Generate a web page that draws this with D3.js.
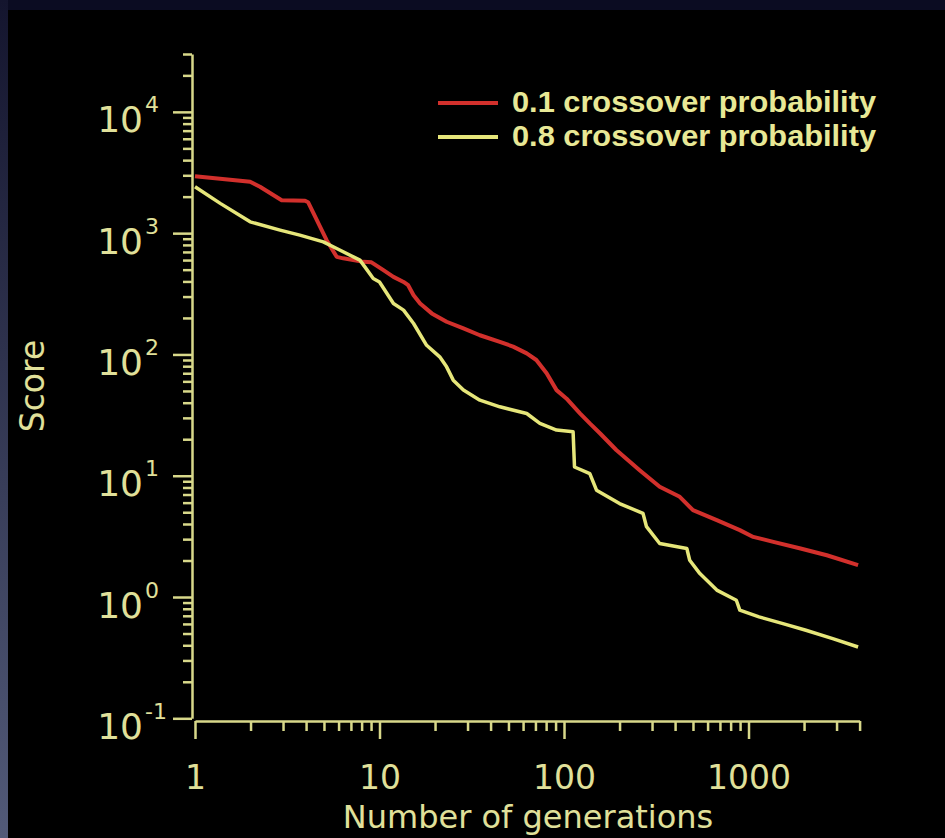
<!DOCTYPE html>
<html>
<head>
<meta charset="utf-8">
<script src="https://cdn.jsdelivr.net/npm/d3@7"></script>
<style>
  html, body { margin: 0; padding: 0; background: #000; }
  svg { display: block; }
  .axis path, .axis line { stroke: #d8d88a; stroke-width: 2.5; }
  .axis text { fill: #e0e09a; font-family: "DejaVu Sans", sans-serif; }
</style>
</head>
<body>
<svg id="chart" width="945" height="838"></svg>
<script>
// series: generations vs score
const gensLow = [1, 1.99, 2.25, 2.95, 3.95, 4.1, 5.17, 5.86, 6.36, 8.17, 9.05, 10.5, 11.9, 13.5, 14.3, 15.3, 16.6, 19.2, 23.1, 28.5, 35, 44.9, 53, 62.8, 70.8, 80.5, 91.1, 103, 122, 138, 157, 192, 257, 330, 424, 500, 673, 897, 1061, 1364, 1914, 2657, 3925];
const scoreLow = [2950, 2650, 2410, 1870, 1850, 1800, 875, 638, 620, 580, 575, 496, 436, 396, 372, 308, 263, 218, 186, 164, 144, 127, 116, 102, 90, 70, 50.8, 43.4, 32.7, 27, 22.3, 16.3, 11.1, 8.1, 6.7, 5.2, 4.3, 3.56, 3.13, 2.85, 2.51, 2.21, 1.83];

const gensHigh = [1, 1.37, 1.99, 2.89, 3.7, 4.96, 5.86, 7.83, 8.33, 9.25, 10, 11.9, 13.5, 15.3, 18, 21.2, 23.1, 25.1, 28.5, 35, 44.9, 62.8, 74, 91.1, 112, 114, 138, 150, 200, 268, 280, 330, 463, 480, 545, 673, 859, 897, 1140, 1537, 2047, 2860, 3925];
const scoreHigh = [2410, 1760, 1240, 1060, 963, 848, 748, 599, 527, 423, 396, 263, 232, 180, 119, 95.6, 79, 61.4, 50.8, 42, 37, 32.6, 27, 23.8, 23, 11.8, 10.4, 7.6, 5.9, 4.89, 3.8, 2.76, 2.51, 2.01, 1.56, 1.14, 0.94, 0.78, 0.686, 0.604, 0.532, 0.454, 0.387];

const seriesNames = ["0.1 crossover probability", "0.8 crossover probability"];
const seriesColors = ["#d2302c", "#e6e67a"];

const xMajor = [1, 10, 100, 1000];
const yExponents = [-1, 0, 1, 2, 3, 4];

const svg = d3.select("#chart");

// slide background edges
const grad = svg.append("defs").append("linearGradient")
    .attr("id", "edge").attr("x1", 0).attr("y1", 0).attr("x2", 0).attr("y2", 1);
grad.append("stop").attr("offset", "0%").attr("stop-color", "#14152e");
grad.append("stop").attr("offset", "100%").attr("stop-color", "#525a78");
svg.append("rect").attr("width", 945).attr("height", 10).attr("fill", "#0b0c22");
svg.append("rect").attr("width", 8).attr("height", 838).attr("fill", "url(#edge)");

const x = d3.scaleLog().domain([1, 4000]).range([195, 859.6]);
const y = d3.scaleLog().domain([0.1, 30000]).range([718.3, 54]);

const minorX = [];
[1, 10, 100, 1000].forEach(d => { for (let k = 2; k <= 9; k++) if (d * k <= 4000) minorX.push(d * k); });
const minorY = [];
[0.1, 1, 10, 100, 1000, 10000].forEach(d => { for (let k = 2; k <= 9; k++) if (d * k <= 30000) minorY.push(d * k); });

// y axis
const yAxisG = svg.append("g").attr("class", "axis").attr("transform", "translate(192,0)");
yAxisG.call(d3.axisLeft(y).tickValues(minorY).tickSize(9).tickSizeOuter(0).tickFormat(""));
const yMajorG = svg.append("g").attr("class", "axis").attr("transform", "translate(192,0)");
yMajorG.call(d3.axisLeft(y).tickValues(yExponents.map(e => Math.pow(10, e))).tickSize(19).tickSizeOuter(0).tickFormat(() => "10"));
yMajorG.select(".domain").remove();
yMajorG.selectAll(".tick text")
    .attr("x", -49).attr("dy", null).attr("y", 20)
    .style("font-size", "36px").attr("text-anchor", "end");
yMajorG.selectAll(".tick").append("text")
    .attr("x", -47).attr("y", 0)
    .attr("text-anchor", "start")
    .style("font-size", "22px")
    .text((d, i) => yExponents[i]);

// x axis
const xAxisG = svg.append("g").attr("class", "axis").attr("transform", "translate(0,721)");
xAxisG.call(d3.axisBottom(x).tickValues(minorX).tickSize(10).tickSizeOuter(0).tickFormat(""));
const xMajorG = svg.append("g").attr("class", "axis").attr("transform", "translate(0,721)");
xMajorG.call(d3.axisBottom(x).tickValues(xMajor).tickSize(18).tickSizeOuter(0).tickFormat(d3.format("d")));
xMajorG.select(".domain").remove();
xMajorG.selectAll(".tick text").attr("y", 68).attr("dy", null).style("font-size", "33px");

// axis titles
svg.append("text")
    .attr("x", 528).attr("y", 828)
    .attr("text-anchor", "middle")
    .style("font-family", "DejaVu Sans, sans-serif").style("font-size", "32px")
    .attr("fill", "#e0e09a")
    .text("Number of generations");
svg.append("text")
    .attr("transform", "translate(44,386) rotate(-90)")
    .attr("text-anchor", "middle")
    .style("font-family", "DejaVu Sans, sans-serif").style("font-size", "33px")
    .attr("fill", "#e0e09a")
    .text("Score");

// lines
const line = d3.line().x(d => x(d[0])).y(d => y(d[1]));
const series = [d3.zip(gensLow, scoreLow), d3.zip(gensHigh, scoreHigh)];
svg.selectAll(".series")
    .data(series)
    .join("path")
    .attr("class", "series")
    .attr("d", line)
    .attr("fill", "none")
    .attr("stroke", (d, i) => seriesColors[i])
    .attr("stroke-width", (d, i) => i === 0 ? 4 : 3.5)
    .attr("stroke-linejoin", "round");

// legend
const legend = svg.append("g");
seriesNames.forEach((name, i) => {
    const yy = 103 + i * 34;
    legend.append("line")
        .attr("x1", 438).attr("x2", 498).attr("y1", yy).attr("y2", yy)
        .attr("stroke", seriesColors[i]).attr("stroke-width", 4);
    legend.append("text")
        .attr("x", 512).attr("y", yy + 9)
        .style("font-family", "Liberation Sans, Arial, sans-serif")
        .style("font-weight", "bold").style("font-size", "30px")
        .attr("textLength", 364).attr("lengthAdjust", "spacingAndGlyphs")
        .attr("fill", "#e8e896")
        .text(name);
});
</script>
</body>
</html>
